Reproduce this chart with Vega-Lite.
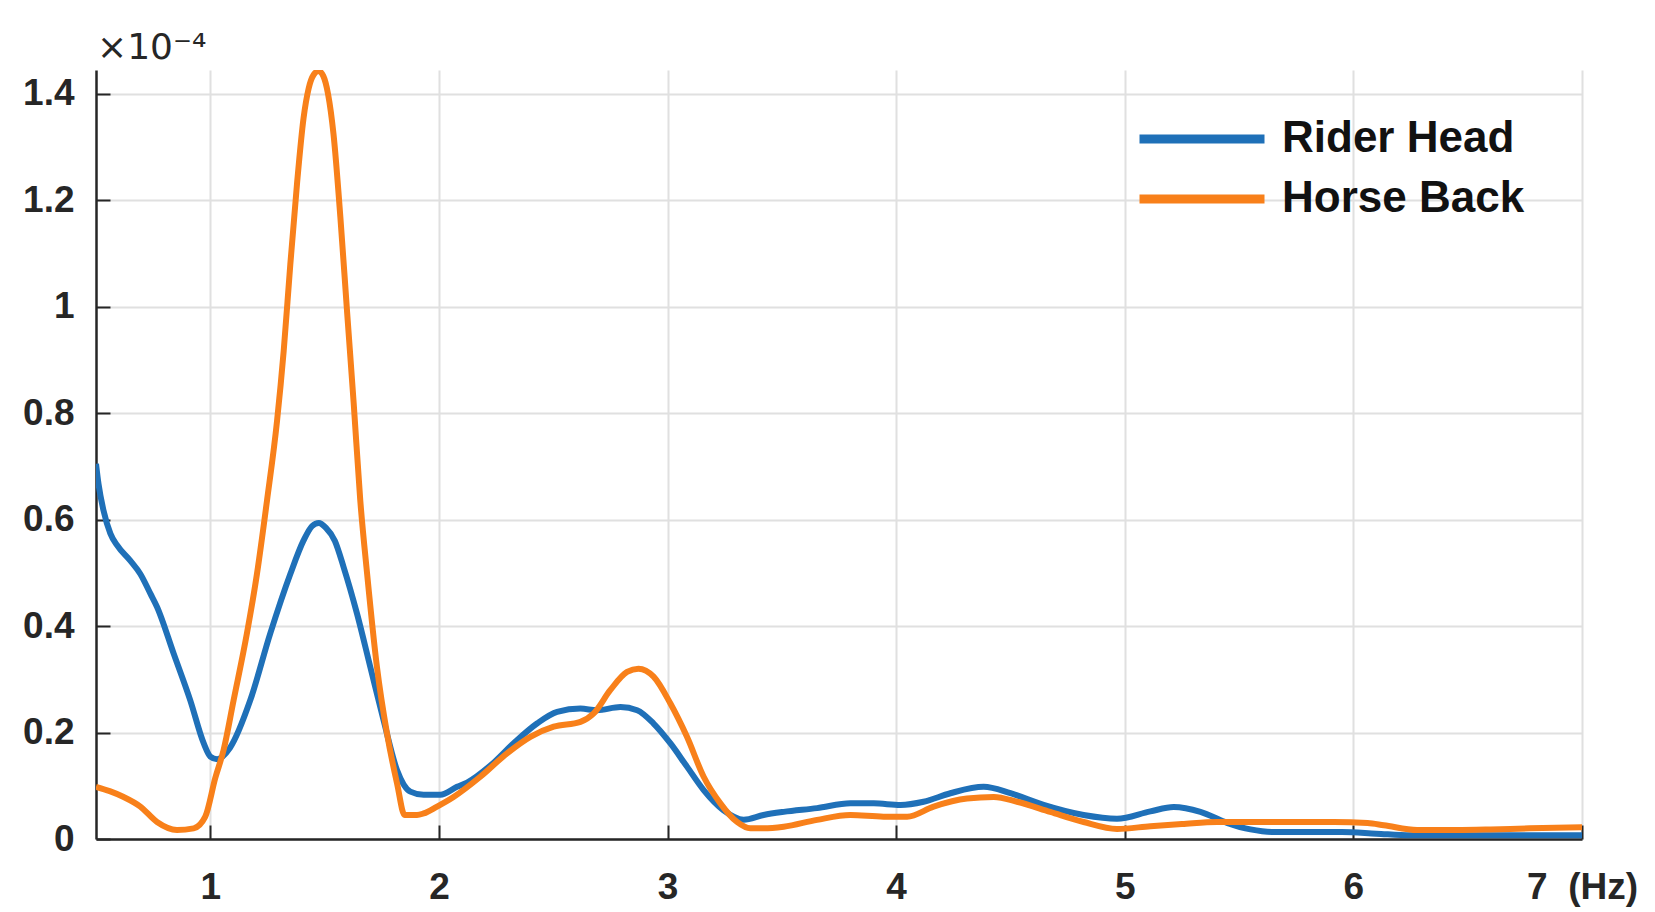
{
  "$schema": "https://vega.github.io/schema/vega-lite/v6.json",
  "width": 1486,
  "height": 769,
  "autosize": {"type": "none"},
  "padding": {"left": 96, "top": 70, "right": 73, "bottom": 73},
  "background": "white",
  "title": {
    "text": "×10⁻⁴",
    "anchor": "start",
    "orient": "top",
    "frame": "group",
    "offset": 3,
    "dx": 1,
    "font": "DejaVu Sans",
    "fontSize": 36,
    "fontWeight": "normal",
    "color": "#262626"
  },
  "config": {
    "view": {"stroke": null},
    "axis": {
      "domainColor": "#262626",
      "domainWidth": 2.5,
      "tickColor": "#262626",
      "tickWidth": 2,
      "tickSize": -14,
      "gridColor": "#e0e0e0",
      "gridWidth": 2,
      "labelFont": "Liberation Sans",
      "labelFontSize": 37,
      "labelFontWeight": "bold",
      "labelColor": "#262626",
      "title": null
    },
    "legend": {
      "labelFont": "Liberation Sans",
      "labelFontSize": 44,
      "labelFontWeight": "bold",
      "labelColor": "#111111",
      "labelLimit": 0
    }
  },
  "data": {
    "values": [
      {"f": 0.5, "v": 0.705, "s": "Rider Head"},
      {"f": 0.511, "v": 0.667, "s": "Rider Head"},
      {"f": 0.533, "v": 0.617, "s": "Rider Head"},
      {"f": 0.563, "v": 0.574, "s": "Rider Head"},
      {"f": 0.592, "v": 0.552, "s": "Rider Head"},
      {"f": 0.65, "v": 0.523, "s": "Rider Head"},
      {"f": 0.694, "v": 0.498, "s": "Rider Head"},
      {"f": 0.738, "v": 0.461, "s": "Rider Head"},
      {"f": 0.767, "v": 0.436, "s": "Rider Head"},
      {"f": 0.84, "v": 0.348, "s": "Rider Head"},
      {"f": 0.912, "v": 0.261, "s": "Rider Head"},
      {"f": 0.971, "v": 0.18, "s": "Rider Head"},
      {"f": 1.0, "v": 0.155, "s": "Rider Head"},
      {"f": 1.03, "v": 0.15, "s": "Rider Head"},
      {"f": 1.087, "v": 0.172, "s": "Rider Head"},
      {"f": 1.175, "v": 0.261, "s": "Rider Head"},
      {"f": 1.262, "v": 0.386, "s": "Rider Head"},
      {"f": 1.35, "v": 0.498, "s": "Rider Head"},
      {"f": 1.408, "v": 0.561, "s": "Rider Head"},
      {"f": 1.445, "v": 0.588, "s": "Rider Head"},
      {"f": 1.475, "v": 0.594, "s": "Rider Head"},
      {"f": 1.505, "v": 0.585, "s": "Rider Head"},
      {"f": 1.545, "v": 0.56, "s": "Rider Head"},
      {"f": 1.583, "v": 0.511, "s": "Rider Head"},
      {"f": 1.642, "v": 0.423, "s": "Rider Head"},
      {"f": 1.7, "v": 0.323, "s": "Rider Head"},
      {"f": 1.758, "v": 0.223, "s": "Rider Head"},
      {"f": 1.817, "v": 0.129, "s": "Rider Head"},
      {"f": 1.875, "v": 0.089, "s": "Rider Head"},
      {"f": 1.933, "v": 0.083, "s": "Rider Head"},
      {"f": 2.006, "v": 0.083, "s": "Rider Head"},
      {"f": 2.079, "v": 0.098, "s": "Rider Head"},
      {"f": 2.123, "v": 0.106, "s": "Rider Head"},
      {"f": 2.225, "v": 0.138, "s": "Rider Head"},
      {"f": 2.327, "v": 0.18, "s": "Rider Head"},
      {"f": 2.429, "v": 0.217, "s": "Rider Head"},
      {"f": 2.517, "v": 0.239, "s": "Rider Head"},
      {"f": 2.619, "v": 0.245, "s": "Rider Head"},
      {"f": 2.692, "v": 0.242, "s": "Rider Head"},
      {"f": 2.794, "v": 0.248, "s": "Rider Head"},
      {"f": 2.867, "v": 0.242, "s": "Rider Head"},
      {"f": 2.939, "v": 0.217, "s": "Rider Head"},
      {"f": 3.012, "v": 0.18, "s": "Rider Head"},
      {"f": 3.085, "v": 0.136, "s": "Rider Head"},
      {"f": 3.158, "v": 0.092, "s": "Rider Head"},
      {"f": 3.245, "v": 0.054, "s": "Rider Head"},
      {"f": 3.333, "v": 0.036, "s": "Rider Head"},
      {"f": 3.42, "v": 0.045, "s": "Rider Head"},
      {"f": 3.508, "v": 0.051, "s": "Rider Head"},
      {"f": 3.654, "v": 0.058, "s": "Rider Head"},
      {"f": 3.8, "v": 0.067, "s": "Rider Head"},
      {"f": 3.902, "v": 0.067, "s": "Rider Head"},
      {"f": 4.019, "v": 0.064, "s": "Rider Head"},
      {"f": 4.12, "v": 0.07, "s": "Rider Head"},
      {"f": 4.237, "v": 0.086, "s": "Rider Head"},
      {"f": 4.383, "v": 0.098, "s": "Rider Head"},
      {"f": 4.5, "v": 0.086, "s": "Rider Head"},
      {"f": 4.645, "v": 0.064, "s": "Rider Head"},
      {"f": 4.82, "v": 0.045, "s": "Rider Head"},
      {"f": 4.966, "v": 0.038, "s": "Rider Head"},
      {"f": 5.112, "v": 0.052, "s": "Rider Head"},
      {"f": 5.214, "v": 0.06, "s": "Rider Head"},
      {"f": 5.331, "v": 0.051, "s": "Rider Head"},
      {"f": 5.45, "v": 0.03, "s": "Rider Head"},
      {"f": 5.55, "v": 0.018, "s": "Rider Head"},
      {"f": 5.65, "v": 0.013, "s": "Rider Head"},
      {"f": 5.95, "v": 0.013, "s": "Rider Head"},
      {"f": 6.1, "v": 0.01, "s": "Rider Head"},
      {"f": 6.25, "v": 0.007, "s": "Rider Head"},
      {"f": 7.0, "v": 0.007, "s": "Rider Head"},

      {"f": 0.5, "v": 0.098, "s": "Horse Back"},
      {"f": 0.56, "v": 0.09, "s": "Horse Back"},
      {"f": 0.621, "v": 0.079, "s": "Horse Back"},
      {"f": 0.694, "v": 0.061, "s": "Horse Back"},
      {"f": 0.767, "v": 0.032, "s": "Horse Back"},
      {"f": 0.854, "v": 0.017, "s": "Horse Back"},
      {"f": 0.927, "v": 0.02, "s": "Horse Back"},
      {"f": 0.978, "v": 0.042, "s": "Horse Back"},
      {"f": 1.022, "v": 0.115, "s": "Horse Back"},
      {"f": 1.058, "v": 0.167, "s": "Horse Back"},
      {"f": 1.102, "v": 0.261, "s": "Horse Back"},
      {"f": 1.16, "v": 0.386, "s": "Horse Back"},
      {"f": 1.204, "v": 0.498, "s": "Horse Back"},
      {"f": 1.248, "v": 0.636, "s": "Horse Back"},
      {"f": 1.292, "v": 0.786, "s": "Horse Back"},
      {"f": 1.321, "v": 0.917, "s": "Horse Back"},
      {"f": 1.35, "v": 1.08, "s": "Horse Back"},
      {"f": 1.379, "v": 1.23, "s": "Horse Back"},
      {"f": 1.408, "v": 1.355, "s": "Horse Back"},
      {"f": 1.43, "v": 1.41, "s": "Horse Back"},
      {"f": 1.452, "v": 1.436, "s": "Horse Back"},
      {"f": 1.474, "v": 1.443, "s": "Horse Back"},
      {"f": 1.494, "v": 1.434, "s": "Horse Back"},
      {"f": 1.515, "v": 1.4, "s": "Horse Back"},
      {"f": 1.539, "v": 1.324, "s": "Horse Back"},
      {"f": 1.569, "v": 1.168, "s": "Horse Back"},
      {"f": 1.598, "v": 0.992, "s": "Horse Back"},
      {"f": 1.627, "v": 0.82, "s": "Horse Back"},
      {"f": 1.656, "v": 0.636, "s": "Horse Back"},
      {"f": 1.686, "v": 0.498, "s": "Horse Back"},
      {"f": 1.729, "v": 0.323, "s": "Horse Back"},
      {"f": 1.773, "v": 0.198, "s": "Horse Back"},
      {"f": 1.817, "v": 0.104, "s": "Horse Back"},
      {"f": 1.85, "v": 0.045, "s": "Horse Back"},
      {"f": 1.904, "v": 0.045, "s": "Horse Back"},
      {"f": 1.933, "v": 0.048, "s": "Horse Back"},
      {"f": 1.992, "v": 0.061, "s": "Horse Back"},
      {"f": 2.064, "v": 0.079, "s": "Horse Back"},
      {"f": 2.181, "v": 0.117, "s": "Horse Back"},
      {"f": 2.298, "v": 0.161, "s": "Horse Back"},
      {"f": 2.4, "v": 0.192, "s": "Horse Back"},
      {"f": 2.502, "v": 0.211, "s": "Horse Back"},
      {"f": 2.619, "v": 0.22, "s": "Horse Back"},
      {"f": 2.677, "v": 0.236, "s": "Horse Back"},
      {"f": 2.75, "v": 0.28, "s": "Horse Back"},
      {"f": 2.823, "v": 0.314, "s": "Horse Back"},
      {"f": 2.873, "v": 0.32, "s": "Horse Back"},
      {"f": 2.939, "v": 0.305, "s": "Horse Back"},
      {"f": 3.012, "v": 0.255, "s": "Horse Back"},
      {"f": 3.085, "v": 0.192, "s": "Horse Back"},
      {"f": 3.158, "v": 0.117, "s": "Horse Back"},
      {"f": 3.231, "v": 0.067, "s": "Horse Back"},
      {"f": 3.304, "v": 0.032, "s": "Horse Back"},
      {"f": 3.362, "v": 0.02, "s": "Horse Back"},
      {"f": 3.42, "v": 0.02, "s": "Horse Back"},
      {"f": 3.508, "v": 0.023, "s": "Horse Back"},
      {"f": 3.654, "v": 0.036, "s": "Horse Back"},
      {"f": 3.8, "v": 0.045, "s": "Horse Back"},
      {"f": 3.945, "v": 0.042, "s": "Horse Back"},
      {"f": 4.048, "v": 0.042, "s": "Horse Back"},
      {"f": 4.164, "v": 0.061, "s": "Horse Back"},
      {"f": 4.31, "v": 0.076, "s": "Horse Back"},
      {"f": 4.427, "v": 0.079, "s": "Horse Back"},
      {"f": 4.529, "v": 0.07, "s": "Horse Back"},
      {"f": 4.674, "v": 0.051, "s": "Horse Back"},
      {"f": 4.82, "v": 0.032, "s": "Horse Back"},
      {"f": 4.966, "v": 0.019, "s": "Horse Back"},
      {"f": 5.112, "v": 0.024, "s": "Horse Back"},
      {"f": 5.25, "v": 0.028, "s": "Horse Back"},
      {"f": 5.404, "v": 0.032, "s": "Horse Back"},
      {"f": 5.73, "v": 0.032, "s": "Horse Back"},
      {"f": 5.914, "v": 0.032, "s": "Horse Back"},
      {"f": 6.062, "v": 0.03, "s": "Horse Back"},
      {"f": 6.133, "v": 0.026, "s": "Horse Back"},
      {"f": 6.279, "v": 0.017, "s": "Horse Back"},
      {"f": 6.45, "v": 0.017, "s": "Horse Back"},
      {"f": 6.6, "v": 0.018, "s": "Horse Back"},
      {"f": 6.77, "v": 0.02, "s": "Horse Back"},
      {"f": 7.0, "v": 0.022, "s": "Horse Back"}
    ]
  },
  "mark": {"type": "line", "interpolate": "monotone", "strokeWidth": 6, "clip": true},
  "encoding": {
    "x": {
      "field": "f",
      "type": "quantitative",
      "scale": {"domain": [0.5, 7], "nice": false, "zero": false},
      "axis": {
        "values": [1, 2, 3, 4, 5, 6, 7],
        "labelExpr": "datum.value == 7 ? '7\u00a0\u00a0(Hz)' : datum.label",
        "labelPadding": 44,
        "labelFlush": false
      }
    },
    "y": {
      "field": "v",
      "type": "quantitative",
      "scale": {"domain": [0, 1.445], "nice": false},
      "axis": {
        "values": [0, 0.2, 0.4, 0.6, 0.8, 1, 1.2, 1.4],
        "format": "~g",
        "labelPadding": 36,
        "labelFlush": false
      }
    },
    "color": {
      "field": "s",
      "type": "nominal",
      "sort": ["Rider Head", "Horse Back"],
      "scale": {"domain": ["Rider Head", "Horse Back"], "range": ["#1f70b8", "#f8801a"]},
      "legend": {
        "title": null,
        "orient": "none",
        "legendX": 1039,
        "legendY": 44,
        "padding": 0,
        "symbolType": "stroke",
        "symbolSize": 15625,
        "symbolStrokeWidth": 9,
        "clipHeight": 50,
        "labelOffset": 13,
        "rowPadding": 10
      }
    }
  }
}
